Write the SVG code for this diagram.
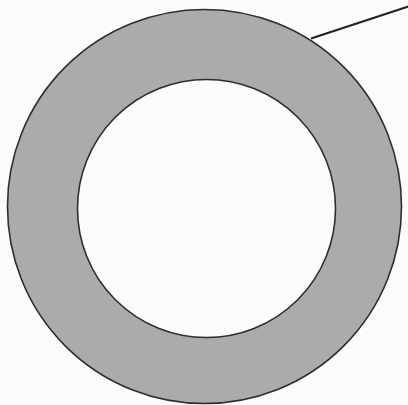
<svg xmlns="http://www.w3.org/2000/svg" width="408" height="405" viewBox="0 0 408 405">
<style>
.ring{fill:#ababab;stroke:#2e2e2e;stroke-width:1.6;fill-rule:evenodd}
.lead{stroke:#222;stroke-width:2.2;fill:none}
</style>
<rect width="408" height="405" fill="#fbfbfb"/>
<g id="ring">
<path class="ring" d="M401.5,206.5 A197,197 0 1 0 7.5,206.5 A197,197 0 1 0 401.5,206.5 Z M335.5,208.5 A129,129 0 1 1 77.5,208.5 A129,129 0 1 1 335.5,208.5 Z"/>
</g>
<g id="connectors">
<line class="lead" x1="311" y1="38.5" x2="410" y2="6"/>
</g>
</svg>
